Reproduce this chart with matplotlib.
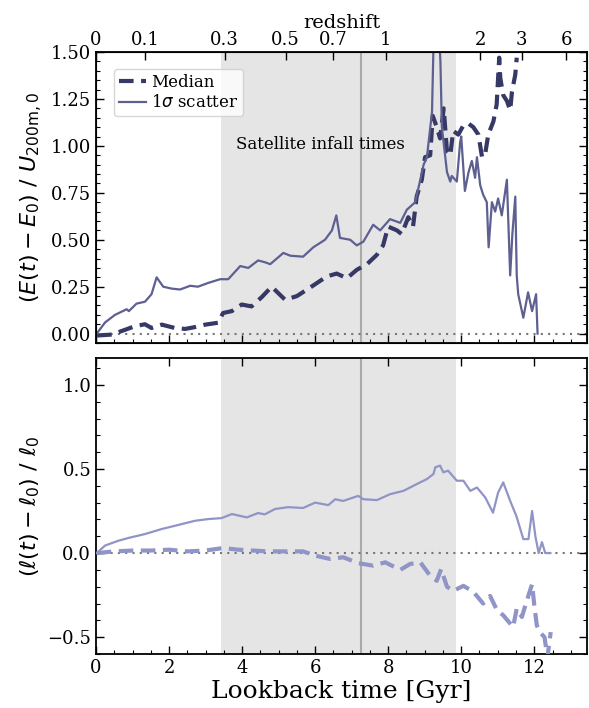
import numpy as np
import matplotlib.pyplot as plt
from matplotlib.ticker import MultipleLocator

plt.rcParams['font.family'] = 'DejaVu Serif'
plt.rcParams['mathtext.fontset'] = 'dejavusans'

# Energy change, median (dashed)
e_med_t = [0.03, 0.43, 0.79, 1.07, 1.34, 1.52, 1.80, 2.16, 2.44, 2.71, 2.99, 3.34, 3.48,
           3.72, 3.99, 4.26, 4.54, 4.81, 5.18, 5.50, 5.86, 6.32, 6.59, 6.87, 7.14, 7.42,
           7.69, 7.86, 8.00, 8.24, 8.37, 8.55, 8.68, 8.78, 8.92, 9.01, 9.15, 9.22, 9.33,
           9.42, 9.52, 9.61, 9.70, 9.78, 9.92, 10.06, 10.19, 10.33, 10.47, 10.57, 10.65,
           10.74, 10.88, 10.97, 11.04, 11.07, 11.15, 11.25, 11.34, 11.39, 11.48, 11.52]
e_med_v = [-0.01, -0.005, 0.02, 0.04, 0.05, 0.03, 0.048, 0.03, 0.025, 0.035, 0.048, 0.058, 0.11,
           0.12, 0.155, 0.145, 0.195, 0.25, 0.18, 0.20, 0.245, 0.305, 0.32, 0.295, 0.34, 0.37,
           0.42, 0.47, 0.57, 0.55, 0.53, 0.62, 0.57, 0.73, 0.82, 0.94, 0.95, 1.16, 1.10,
           1.04, 1.20, 0.97, 0.95, 1.08, 1.06, 1.11, 1.12, 1.10, 1.06, 0.94, 0.95,
           1.06, 1.13, 1.22, 1.47, 1.36, 1.27, 1.24, 1.19, 1.29, 1.38, 1.47]

# Energy change, 1 sigma scatter (solid)
e_sig_t = [0.02, 0.25, 0.52, 0.84, 0.90, 1.11, 1.34, 1.52, 1.66, 1.84, 2.07, 2.30, 2.58, 2.79,
           3.07, 3.40, 3.62, 3.95, 4.17, 4.44, 4.63, 4.77, 5.13, 5.32, 5.67, 5.95, 6.27, 6.46,
           6.58, 6.68, 6.96, 7.14, 7.32, 7.59, 7.78, 8.05, 8.33, 8.51, 8.74, 8.88, 8.97, 9.06,
           9.20, 9.25, 9.38, 9.43, 9.47, 9.61, 9.70, 9.74, 9.88, 9.97, 10.00, 10.10, 10.20,
           10.29, 10.38, 10.43, 10.52, 10.60, 10.70, 10.75, 10.84, 10.93, 11.01, 11.11, 11.25,
           11.34, 11.40, 11.48, 11.52, 11.56, 11.70, 11.83, 11.94, 12.05, 12.09]
e_sig_v = [0.0, 0.06, 0.10, 0.13, 0.12, 0.16, 0.17, 0.21, 0.30, 0.25, 0.24, 0.235, 0.255, 0.25,
           0.27, 0.29, 0.29, 0.36, 0.35, 0.39, 0.38, 0.37, 0.43, 0.415, 0.41, 0.46, 0.50, 0.55,
           0.63, 0.51, 0.50, 0.47, 0.49, 0.58, 0.55, 0.61, 0.59, 0.66, 0.70, 0.82, 0.90, 0.94,
           1.18, 1.62, 1.65, 1.45, 1.10, 0.86, 0.81, 0.84, 0.81, 1.02, 1.05, 0.76, 0.86,
           0.92, 0.83, 0.94, 0.79, 0.74, 0.70, 0.46, 0.70, 0.65, 0.72, 0.63, 0.82,
           0.31, 0.53, 0.73, 0.31, 0.21, 0.085, 0.22, 0.12, 0.21, 0.0]

# Angular momentum change, median (dashed)
l_med_t = [0.02, 0.5, 1.0, 1.5, 2.0, 2.5, 3.0, 3.48, 3.89, 4.30, 4.70, 5.14, 5.67, 6.00, 6.41,
           6.77, 7.18, 7.59, 7.92, 8.33, 8.60, 8.88, 9.15, 9.33, 9.45, 9.61, 9.78, 10.06,
           10.33, 10.60, 10.79, 10.98, 11.15, 11.42, 11.52, 11.66, 11.80, 11.94, 12.00, 12.07,
           12.15, 12.28, 12.36, 12.45]
l_med_v = [0.0, 0.01, 0.015, 0.015, 0.02, 0.01, 0.015, 0.03, 0.02, 0.015, 0.01, 0.01, 0.01,
           -0.015, -0.035, -0.025, -0.06, -0.075, -0.055, -0.10, -0.065, -0.055, -0.135, -0.165,
           -0.095, -0.20, -0.225, -0.195, -0.23, -0.30, -0.255, -0.34, -0.37, -0.44, -0.33,
           -0.38, -0.28, -0.185, -0.31, -0.43, -0.47, -0.50, -0.62, -0.47]

# Angular momentum change, 1 sigma scatter (solid)
l_sig_t = [0.02, 0.25, 0.61, 0.89, 1.34, 1.80, 2.25, 2.71, 3.07, 3.44, 3.72, 4.13, 4.44, 4.62,
           4.90, 5.26, 5.67, 6.00, 6.36, 6.55, 6.77, 7.18, 7.32, 7.69, 8.05, 8.42, 8.69, 9.06,
           9.24, 9.29, 9.42, 9.51, 9.64, 9.88, 10.06, 10.25, 10.43, 10.66, 10.87, 11.01, 11.15,
           11.34, 11.51, 11.70, 11.84, 11.94, 12.03, 12.12, 12.21, 12.30, 12.44]
l_sig_v = [0.0, 0.045, 0.073, 0.09, 0.113, 0.143, 0.167, 0.192, 0.202, 0.208, 0.232, 0.212,
           0.238, 0.23, 0.262, 0.273, 0.268, 0.30, 0.285, 0.32, 0.31, 0.34, 0.32, 0.315, 0.35,
           0.37, 0.40, 0.44, 0.47, 0.51, 0.52, 0.48, 0.49, 0.43, 0.43, 0.37, 0.39, 0.33, 0.24,
           0.36, 0.42, 0.31, 0.22, 0.083, 0.083, 0.25, 0.10, 0.0, 0.065, 0.0, 0.0]

# Satellite infall window and median infall time [Gyr]
infall_lo, infall_hi, infall_med = 3.42, 9.86, 7.26

# Redshift ticks for the top axis
z_ticks = [0, 0.1, 0.3, 0.5, 0.7, 1, 2, 3, 6]
z_labels = ['0', '0.1', '0.3', '0.5', '0.7', '1', '2', '3', '6']


def lookback_time(z, H0=67.74, Om=0.3089):
    """Lookback time in Gyr for flat LCDM"""
    if z == 0:
        return 0.0
    zz = np.linspace(0, z, 2000)
    integrand = 1.0 / ((1 + zz) * np.sqrt(Om * (1 + zz) ** 3 + 1 - Om))
    return 977.8 / H0 * np.trapezoid(integrand, zz)


c_med_top = '#363866'
c_sig_top = '#5d6090'
c_bot = '#9094c6'
xmax = 13.45

fig = plt.figure(figsize=(5.89, 7.08), dpi=100)
ax1 = fig.add_axes([0.163, 0.5155, 0.834, 0.411])
ax2 = fig.add_axes([0.163, 0.0763, 0.834, 0.4181])

for ax in (ax1, ax2):
    ax.axvspan(infall_lo, infall_hi, color='#e5e5e5', zorder=0, lw=0)
    ax.axvline(infall_med, color='#aaaaaa', lw=1.5, zorder=1)
    ax.axhline(0, color='#777777', ls=(0, (1, 2.5)), lw=1.5, zorder=1)
    ax.set_xlim(0, xmax)
    ax.xaxis.set_major_locator(MultipleLocator(2))
    ax.xaxis.set_minor_locator(MultipleLocator(0.5))
    ax.tick_params(which='both', direction='in', right=True, labelsize=13)
    ax.tick_params(which='major', length=6, width=1)
    ax.tick_params(which='minor', length=3, width=0.8)
    for s in ax.spines.values():
        s.set_linewidth(1.3)

# Top panel: energy
ax1.plot(e_med_t, e_med_v, color=c_med_top, lw=3, ls=(0, (3.5, 1.8)), label='Median', zorder=3)
ax1.plot(e_sig_t, e_sig_v, color=c_sig_top, lw=1.6, label=r'1$\sigma$ scatter', zorder=3)
ax1.set_ylim(-0.05, 1.5)
ax1.yaxis.set_major_locator(MultipleLocator(0.25))
ax1.yaxis.set_minor_locator(MultipleLocator(0.05))
ax1.yaxis.set_major_formatter(plt.FormatStrFormatter('%.2f'))
ax1.tick_params(labelbottom=False)
ax1.set_ylabel(r'$(E(t) - E_0)\ /\ U_{200\mathrm{m},0}$', fontsize=16)
ax1.text(6.14, 1.005, 'Satellite infall times', ha='center', va='center', fontsize=12)
ax1.legend(loc='upper left', bbox_to_anchor=(0.02, 0.97), fontsize=12, handlelength=1.6,
           handletextpad=0.3, borderpad=0.3, labelspacing=0.2, fancybox=True, framealpha=0.8)

# Redshift axis on top
top = ax1.twiny()
top.set_xlim(0, xmax)
top.set_xticks([lookback_time(z) for z in z_ticks])
top.set_xticklabels(z_labels)
top.tick_params(direction='in', length=6, width=1, labelsize=13, pad=2)
top.set_xlabel('redshift', fontsize=14, labelpad=2)

# Bottom panel: angular momentum
ax2.plot(l_med_t, l_med_v, color=c_bot, lw=3, ls=(0, (3.5, 1.8)), zorder=3)
ax2.plot(l_sig_t, l_sig_v, color=c_bot, lw=1.6, zorder=3)
ax2.set_ylim(-0.6, 1.16)
ax2.yaxis.set_major_locator(MultipleLocator(0.5))
ax2.yaxis.set_minor_locator(MultipleLocator(0.1))
ax2.tick_params(top=True)
ax2.set_ylabel(r'$(\ell(t) - \ell_0)\ /\ \ell_0$', fontsize=16)
ax2.set_xlabel('Lookback time [Gyr]', fontsize=18, labelpad=2)

fig.savefig('out.png', dpi=100)
